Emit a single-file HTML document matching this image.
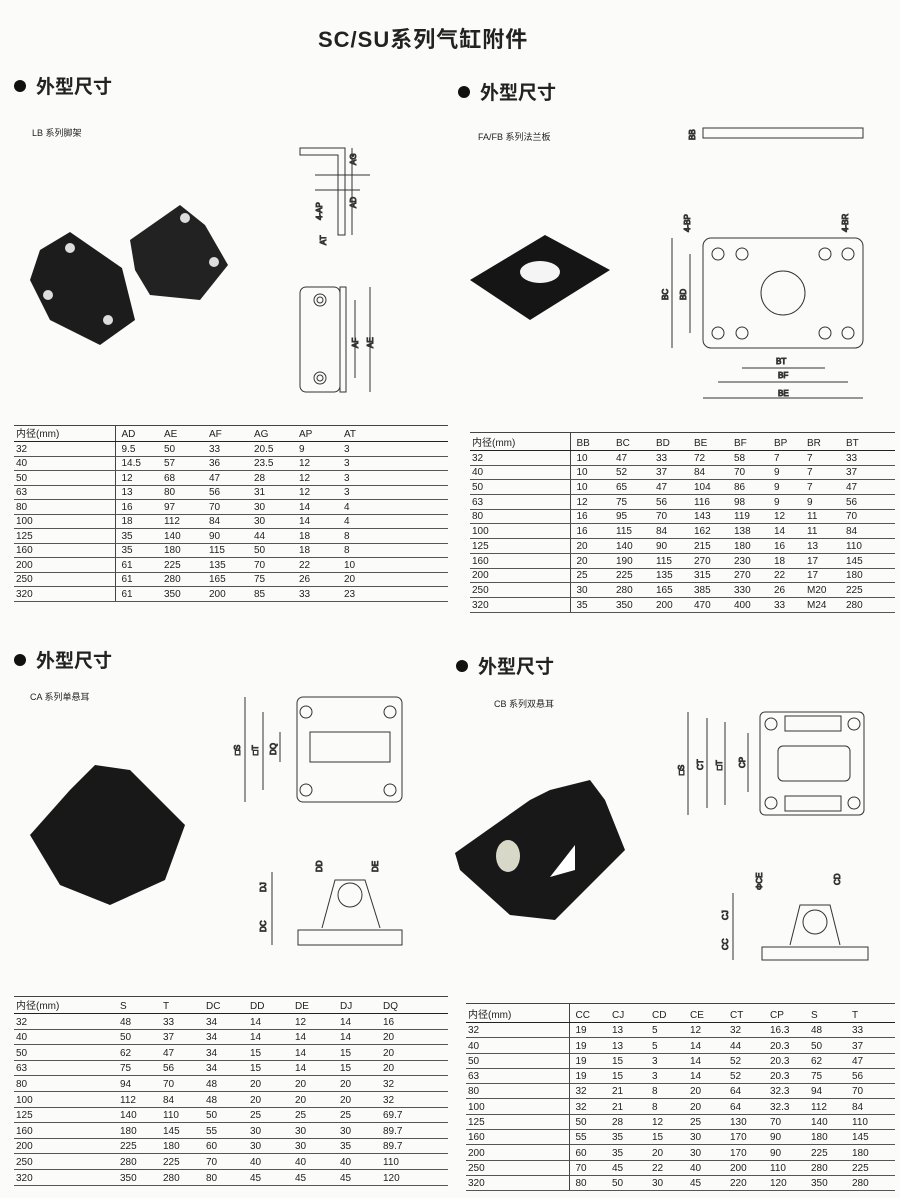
<!DOCTYPE html>
<html><head><meta charset="utf-8"><style>
body{margin:0;width:900px;height:1198px;background:#fbfbf9;position:relative;overflow:hidden;font-family:"Liberation Sans","Noto Sans CJK SC",sans-serif;color:#222}
.a{position:absolute}
table{position:absolute;border-collapse:collapse;font-size:10px;table-layout:fixed}
td{padding:0 0 0 6px;border-bottom:1px solid #555;white-space:nowrap;overflow:hidden;vertical-align:bottom;line-height:12px}
tr.h td{border-top:1px solid #444;border-bottom:1px solid #222}
td.f{padding-left:2px;border-right:1px solid #444}
.hd{font-size:19px;font-weight:bold}
.dot{display:inline-block;width:12px;height:12px;border-radius:50%;background:#111;margin-right:10px;vertical-align:1px}
.cap{font-size:9px}
</style></head><body>
<div class="a" style="left:318px;top:22px;font-size:22px;font-weight:bold;letter-spacing:1px">SC/SU系列气缸附件</div>
<div class="a hd" style="left:14px;top:72px"><span class="dot"></span>外型尺寸</div>
<div class="a hd" style="left:458px;top:78px"><span class="dot"></span>外型尺寸</div>
<div class="a hd" style="left:14px;top:646px"><span class="dot"></span>外型尺寸</div>
<div class="a hd" style="left:456px;top:652px"><span class="dot"></span>外型尺寸</div>
<div class="a cap" style="left:32px;top:126px">LB 系列脚架</div>
<div class="a cap" style="left:478px;top:130px">FA/FB 系列法兰板</div>
<div class="a cap" style="left:30px;top:690px">CA 系列单悬耳</div>
<div class="a cap" style="left:494px;top:697px">CB 系列双悬耳</div>

<svg class="a" style="left:0;top:0" width="900" height="1198" fill="none" stroke="#333" stroke-width="1" font-family="Liberation Sans" font-size="8">
<!-- LB photo -->
<path d="M40 250 L70 232 L122 268 L135 320 L100 345 L50 320 L30 280 Z" fill="#1c1c1c" stroke="none"/>
<path d="M130 240 L180 205 L205 225 L228 265 L200 300 L150 295 L135 270 Z" fill="#222" stroke="none"/>
<circle cx="70" cy="248" r="5" fill="#ddd" stroke="none"/><circle cx="108" cy="320" r="5" fill="#ddd" stroke="none"/><circle cx="48" cy="295" r="5" fill="#ddd" stroke="none"/><circle cx="185" cy="218" r="5" fill="#ddd" stroke="none"/><circle cx="214" cy="262" r="5" fill="#ddd" stroke="none"/>
<!-- LB drawings -->
<path d="M300 148 H345 V235 H338 V155 H300 Z"/>
<path d="M352 148 V235 M315 190 H360 M315 175 H370"/>
<text x="356" y="165" transform="rotate(-90 356 165)">AG</text><text x="356" y="208" transform="rotate(-90 356 208)">AD</text>
<text x="322" y="220" transform="rotate(-90 322 220)">4-AP</text><text x="326" y="245" transform="rotate(-90 326 245)">AT</text>
<rect x="300" y="287" width="40" height="105" rx="6"/><rect x="340" y="287" width="6" height="105"/>
<circle cx="320" cy="300" r="6"/><circle cx="320" cy="300" r="3"/><circle cx="320" cy="378" r="6"/><circle cx="320" cy="378" r="3"/>
<path d="M355 300 V378 M370 287 V392"/><text x="358" y="348" transform="rotate(-90 358 348)">AF</text><text x="373" y="348" transform="rotate(-90 373 348)">AE</text>
<!-- FA photo -->
<path d="M470 280 L545 235 L610 270 L530 320 Z" fill="#151515" stroke="none"/>
<ellipse cx="540" cy="272" rx="20" ry="11" fill="#f4f4f4" stroke="none"/>
<!-- FA drawings -->
<rect x="703" y="128" width="160" height="10"/><text x="695" y="140" transform="rotate(-90 695 140)">BB</text>
<rect x="703" y="238" width="160" height="110" rx="8"/>
<circle cx="783" cy="293" r="22"/>
<g><circle cx="718" cy="254" r="6"/><circle cx="742" cy="254" r="6"/><circle cx="825" cy="254" r="6"/><circle cx="848" cy="254" r="6"/><circle cx="718" cy="333" r="6"/><circle cx="742" cy="333" r="6"/><circle cx="825" cy="333" r="6"/><circle cx="848" cy="333" r="6"/></g>
<path d="M672 238 V348 M690 254 V333 M742 368 H825 M718 382 H848 M703 398 H863"/>
<text x="668" y="300" transform="rotate(-90 668 300)">BC</text><text x="686" y="300" transform="rotate(-90 686 300)">BD</text>
<text x="776" y="364">BT</text><text x="778" y="378">BF</text><text x="778" y="396">BE</text>
<text x="690" y="232" transform="rotate(-90 690 232)">4-BP</text><text x="848" y="232" transform="rotate(-90 848 232)">4-BR</text>
<!-- CA photo -->
<path d="M30 835 L70 790 L95 765 L130 770 L185 825 L165 880 L110 905 L60 885 Z" fill="#181818" stroke="none"/>
<!-- CA drawings -->
<rect x="297" y="697" width="105" height="105" rx="6"/><rect x="310" y="732" width="80" height="30"/>
<circle cx="306" cy="712" r="6"/><circle cx="390" cy="712" r="6"/><circle cx="306" cy="790" r="6"/><circle cx="390" cy="790" r="6"/>
<path d="M245 697 V802 M263 712 V790 M280 732 V762"/>
<text x="240" y="755" transform="rotate(-90 240 755)">□S</text><text x="258" y="755" transform="rotate(-90 258 755)">□T</text><text x="276" y="755" transform="rotate(-90 276 755)">DQ</text>
<path d="M298 930 H402 V945 H298 Z M322 928 L335 880 H365 L380 928"/><circle cx="350" cy="895" r="12"/>
<path d="M272 872 V945"/><text x="266" y="892" transform="rotate(-90 266 892)">DJ</text><text x="266" y="932" transform="rotate(-90 266 932)">DC</text>
<text x="322" y="872" transform="rotate(-90 322 872)">DD</text><text x="378" y="872" transform="rotate(-90 378 872)">DE</text>
<!-- CB photo -->
<path d="M455 853 L530 800 L550 790 L590 780 L605 800 L625 850 L575 900 L555 920 L510 915 L460 870 Z" fill="#181818" stroke="none"/>
<ellipse cx="508" cy="856" rx="12" ry="16" fill="#d8d8c8" stroke="none"/>
<path d="M550 877 L575 845 L575 870 Z" fill="#fff" stroke="none"/>
<!-- CB drawings -->
<rect x="760" y="712" width="104" height="103" rx="5"/>
<rect x="785" y="716" width="56" height="15"/><rect x="785" y="796" width="56" height="15"/><rect x="778" y="746" width="72" height="35" rx="5"/>
<circle cx="771" cy="724" r="6"/><circle cx="854" cy="724" r="6"/><circle cx="771" cy="803" r="6"/><circle cx="854" cy="803" r="6"/>
<path d="M688 712 V815 M707 718 V808 M725 722 V805 M748 733 V792"/>
<text x="684" y="775" transform="rotate(-90 684 775)">□S</text><text x="703" y="770" transform="rotate(-90 703 770)">CT</text><text x="722" y="770" transform="rotate(-90 722 770)">□T</text><text x="745" y="768" transform="rotate(-90 745 768)">CP</text>
<path d="M762 947 H868 V960 H762 Z M790 945 L800 905 H830 L840 945"/><circle cx="815" cy="922" r="12"/>
<path d="M733 893 V960"/><text x="728" y="920" transform="rotate(-90 728 920)">CJ</text><text x="728" y="950" transform="rotate(-90 728 950)">CC</text>
<text x="762" y="890" transform="rotate(-90 762 890)">ΦCE</text><text x="840" y="885" transform="rotate(-90 840 885)">CD</text>
</svg>

<table style="left:14px;top:425px;width:434px"><colgroup><col style="width:101px"><col style="width:43px"><col style="width:45px"><col style="width:45px"><col style="width:45px"><col style="width:45px"><col></colgroup>
<tr class="h" style="height:16px"><td class="f">内径(mm)</td><td>AD</td><td>AE</td><td>AF</td><td>AG</td><td>AP</td><td>AT</td></tr>
<tr style="height:14.5px"><td class="f">32</td><td>9.5</td><td>50</td><td>33</td><td>20.5</td><td>9</td><td>3</td></tr>
<tr style="height:14.5px"><td class="f">40</td><td>14.5</td><td>57</td><td>36</td><td>23.5</td><td>12</td><td>3</td></tr>
<tr style="height:14.5px"><td class="f">50</td><td>12</td><td>68</td><td>47</td><td>28</td><td>12</td><td>3</td></tr>
<tr style="height:14.5px"><td class="f">63</td><td>13</td><td>80</td><td>56</td><td>31</td><td>12</td><td>3</td></tr>
<tr style="height:14.5px"><td class="f">80</td><td>16</td><td>97</td><td>70</td><td>30</td><td>14</td><td>4</td></tr>
<tr style="height:14.5px"><td class="f">100</td><td>18</td><td>112</td><td>84</td><td>30</td><td>14</td><td>4</td></tr>
<tr style="height:14.5px"><td class="f">125</td><td>35</td><td>140</td><td>90</td><td>44</td><td>18</td><td>8</td></tr>
<tr style="height:14.5px"><td class="f">160</td><td>35</td><td>180</td><td>115</td><td>50</td><td>18</td><td>8</td></tr>
<tr style="height:14.5px"><td class="f">200</td><td>61</td><td>225</td><td>135</td><td>70</td><td>22</td><td>10</td></tr>
<tr style="height:14.5px"><td class="f">250</td><td>61</td><td>280</td><td>165</td><td>75</td><td>26</td><td>20</td></tr>
<tr style="height:14.5px"><td class="f">320</td><td>61</td><td>350</td><td>200</td><td>85</td><td>33</td><td>23</td></tr>
</table>

<table style="left:470px;top:432px;width:425px"><colgroup><col style="width:100px"><col style="width:40px"><col style="width:40px"><col style="width:38px"><col style="width:40px"><col style="width:40px"><col style="width:33px"><col style="width:39px"><col></colgroup>
<tr class="h" style="height:18px"><td class="f">内径(mm)</td><td>BB</td><td>BC</td><td>BD</td><td>BE</td><td>BF</td><td>BP</td><td>BR</td><td>BT</td></tr>
<tr style="height:14.7px"><td class="f">32</td><td>10</td><td>47</td><td>33</td><td>72</td><td>58</td><td>7</td><td>7</td><td>33</td></tr>
<tr style="height:14.7px"><td class="f">40</td><td>10</td><td>52</td><td>37</td><td>84</td><td>70</td><td>9</td><td>7</td><td>37</td></tr>
<tr style="height:14.7px"><td class="f">50</td><td>10</td><td>65</td><td>47</td><td>104</td><td>86</td><td>9</td><td>7</td><td>47</td></tr>
<tr style="height:14.7px"><td class="f">63</td><td>12</td><td>75</td><td>56</td><td>116</td><td>98</td><td>9</td><td>9</td><td>56</td></tr>
<tr style="height:14.7px"><td class="f">80</td><td>16</td><td>95</td><td>70</td><td>143</td><td>119</td><td>12</td><td>11</td><td>70</td></tr>
<tr style="height:14.7px"><td class="f">100</td><td>16</td><td>115</td><td>84</td><td>162</td><td>138</td><td>14</td><td>11</td><td>84</td></tr>
<tr style="height:14.7px"><td class="f">125</td><td>20</td><td>140</td><td>90</td><td>215</td><td>180</td><td>16</td><td>13</td><td>110</td></tr>
<tr style="height:14.7px"><td class="f">160</td><td>20</td><td>190</td><td>115</td><td>270</td><td>230</td><td>18</td><td>17</td><td>145</td></tr>
<tr style="height:14.7px"><td class="f">200</td><td>25</td><td>225</td><td>135</td><td>315</td><td>270</td><td>22</td><td>17</td><td>180</td></tr>
<tr style="height:14.7px"><td class="f">250</td><td>30</td><td>280</td><td>165</td><td>385</td><td>330</td><td>26</td><td>M20</td><td>225</td></tr>
<tr style="height:14.7px"><td class="f">320</td><td>35</td><td>350</td><td>200</td><td>470</td><td>400</td><td>33</td><td>M24</td><td>280</td></tr>
</table>

<table style="left:14px;top:996px;width:434px"><colgroup><col style="width:100px"><col style="width:43px"><col style="width:43px"><col style="width:44px"><col style="width:45px"><col style="width:45px"><col style="width:43px"><col></colgroup>
<tr class="h" style="height:17px"><td class="f" style="border-right:none">内径(mm)</td><td>S</td><td>T</td><td>DC</td><td>DD</td><td>DE</td><td>DJ</td><td>DQ</td></tr>
<tr style="height:15.6px"><td class="f" style="border-right:none">32</td><td>48</td><td>33</td><td>34</td><td>14</td><td>12</td><td>14</td><td>16</td></tr>
<tr style="height:15.6px"><td class="f" style="border-right:none">40</td><td>50</td><td>37</td><td>34</td><td>14</td><td>14</td><td>14</td><td>20</td></tr>
<tr style="height:15.6px"><td class="f" style="border-right:none">50</td><td>62</td><td>47</td><td>34</td><td>15</td><td>14</td><td>15</td><td>20</td></tr>
<tr style="height:15.6px"><td class="f" style="border-right:none">63</td><td>75</td><td>56</td><td>34</td><td>15</td><td>14</td><td>15</td><td>20</td></tr>
<tr style="height:15.6px"><td class="f" style="border-right:none">80</td><td>94</td><td>70</td><td>48</td><td>20</td><td>20</td><td>20</td><td>32</td></tr>
<tr style="height:15.6px"><td class="f" style="border-right:none">100</td><td>112</td><td>84</td><td>48</td><td>20</td><td>20</td><td>20</td><td>32</td></tr>
<tr style="height:15.6px"><td class="f" style="border-right:none">125</td><td>140</td><td>110</td><td>50</td><td>25</td><td>25</td><td>25</td><td>69.7</td></tr>
<tr style="height:15.6px"><td class="f" style="border-right:none">160</td><td>180</td><td>145</td><td>55</td><td>30</td><td>30</td><td>30</td><td>89.7</td></tr>
<tr style="height:15.6px"><td class="f" style="border-right:none">200</td><td>225</td><td>180</td><td>60</td><td>30</td><td>30</td><td>35</td><td>89.7</td></tr>
<tr style="height:15.6px"><td class="f" style="border-right:none">250</td><td>280</td><td>225</td><td>70</td><td>40</td><td>40</td><td>40</td><td>110</td></tr>
<tr style="height:15.6px"><td class="f" style="border-right:none">320</td><td>350</td><td>280</td><td>80</td><td>45</td><td>45</td><td>45</td><td>120</td></tr>
</table>

<table style="left:466px;top:1003px;width:429px"><colgroup><col style="width:103px"><col style="width:37px"><col style="width:40px"><col style="width:38px"><col style="width:40px"><col style="width:40px"><col style="width:41px"><col style="width:41px"><col></colgroup>
<tr class="h" style="height:19px"><td class="f">内径(mm)</td><td>CC</td><td>CJ</td><td>CD</td><td>CE</td><td>CT</td><td>CP</td><td>S</td><td>T</td></tr>
<tr style="height:15.3px"><td class="f">32</td><td>19</td><td>13</td><td>5</td><td>12</td><td>32</td><td>16.3</td><td>48</td><td>33</td></tr>
<tr style="height:15.3px"><td class="f">40</td><td>19</td><td>13</td><td>5</td><td>14</td><td>44</td><td>20.3</td><td>50</td><td>37</td></tr>
<tr style="height:15.3px"><td class="f">50</td><td>19</td><td>15</td><td>3</td><td>14</td><td>52</td><td>20.3</td><td>62</td><td>47</td></tr>
<tr style="height:15.3px"><td class="f">63</td><td>19</td><td>15</td><td>3</td><td>14</td><td>52</td><td>20.3</td><td>75</td><td>56</td></tr>
<tr style="height:15.3px"><td class="f">80</td><td>32</td><td>21</td><td>8</td><td>20</td><td>64</td><td>32.3</td><td>94</td><td>70</td></tr>
<tr style="height:15.3px"><td class="f">100</td><td>32</td><td>21</td><td>8</td><td>20</td><td>64</td><td>32.3</td><td>112</td><td>84</td></tr>
<tr style="height:15.3px"><td class="f">125</td><td>50</td><td>28</td><td>12</td><td>25</td><td>130</td><td>70</td><td>140</td><td>110</td></tr>
<tr style="height:15.3px"><td class="f">160</td><td>55</td><td>35</td><td>15</td><td>30</td><td>170</td><td>90</td><td>180</td><td>145</td></tr>
<tr style="height:15.3px"><td class="f">200</td><td>60</td><td>35</td><td>20</td><td>30</td><td>170</td><td>90</td><td>225</td><td>180</td></tr>
<tr style="height:15.3px"><td class="f">250</td><td>70</td><td>45</td><td>22</td><td>40</td><td>200</td><td>110</td><td>280</td><td>225</td></tr>
<tr style="height:15.3px"><td class="f">320</td><td>80</td><td>50</td><td>30</td><td>45</td><td>220</td><td>120</td><td>350</td><td>280</td></tr>
</table>
</body></html>
